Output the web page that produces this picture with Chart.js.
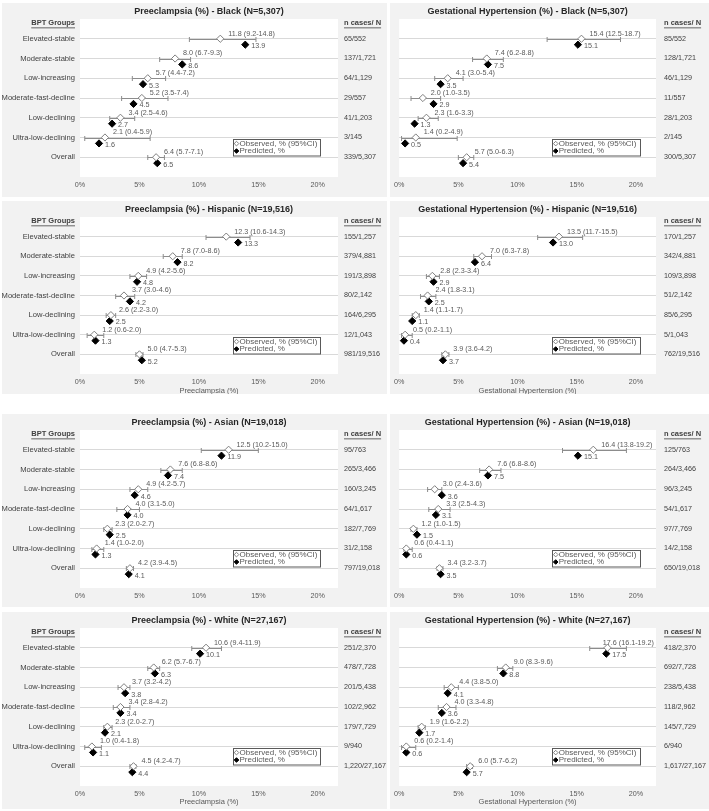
<!DOCTYPE html>
<html>
<head>
<meta charset="utf-8">
<script src="https://cdn.jsdelivr.net/npm/chart.js@4.4.1/dist/chart.umd.min.js"></script>
<style>
  html, body { margin: 0; padding: 0; background: #fff; }
  body { width: 709px; height: 811px; position: relative; overflow: hidden; }
</style>
</head>
<body>
<script>
// BPT groups (rows) and x ticks
const groups = ['Elevated-stable', 'Moderate-stable', 'Low-increasing', 'Moderate-fast-decline', 'Low-declining', 'Ultra-low-declining', 'Overall'];
const xTicks = [0, 5, 10, 15, 20];

// Black
const blackPeObs  = [11.8, 8.0, 5.7, 5.2, 3.4, 2.1, 6.4];
const blackPeLow  = [9.2, 6.7, 4.4, 3.5, 2.5, 0.4, 5.7];
const blackPeHigh = [14.8, 9.3, 7.2, 7.4, 4.6, 5.9, 7.1];
const blackPePred = [13.9, 8.6, 5.3, 4.5, 2.7, 1.6, 6.5];
const blackPeN    = ['65/552', '137/1,721', '64/1,129', '29/557', '41/1,203', '3/145', '339/5,307'];

const blackGhObs  = [15.4, 7.4, 4.1, 2.0, 2.3, 1.4, 5.7];
const blackGhLow  = [12.5, 6.2, 3.0, 1.0, 1.6, 0.2, 5.0];
const blackGhHigh = [18.7, 8.8, 5.4, 3.5, 3.3, 4.9, 6.3];
const blackGhPred = [15.1, 7.5, 3.5, 2.9, 1.3, 0.5, 5.4];
const blackGhN    = ['85/552', '128/1,721', '46/1,129', '11/557', '28/1,203', '2/145', '300/5,307'];

// Hispanic
const hispPeObs  = [12.3, 7.8, 4.9, 3.7, 2.6, 1.2, 5.0];
const hispPeLow  = [10.6, 7.0, 4.2, 3.0, 2.2, 0.6, 4.7];
const hispPeHigh = [14.3, 8.6, 5.6, 4.6, 3.0, 2.0, 5.3];
const hispPePred = [13.3, 8.2, 4.8, 4.2, 2.5, 1.3, 5.2];
const hispPeN    = ['155/1,257', '379/4,881', '191/3,898', '80/2,142', '164/6,295', '12/1,043', '981/19,516'];

const hispGhObs  = [13.5, 7.0, 2.8, 2.4, 1.4, 0.5, 3.9];
const hispGhLow  = [11.7, 6.3, 2.3, 1.8, 1.1, 0.2, 3.6];
const hispGhHigh = [15.5, 7.8, 3.4, 3.1, 1.7, 1.1, 4.2];
const hispGhPred = [13.0, 6.4, 2.9, 2.5, 1.1, 0.4, 3.7];
const hispGhN    = ['170/1,257', '342/4,881', '109/3,898', '51/2,142', '85/6,295', '5/1,043', '762/19,516'];

// Asian
const asianPeObs  = [12.5, 7.6, 4.9, 4.0, 2.3, 1.4, 4.2];
const asianPeLow  = [10.2, 6.8, 4.2, 3.1, 2.0, 1.0, 3.9];
const asianPeHigh = [15.0, 8.6, 5.7, 5.0, 2.7, 2.0, 4.5];
const asianPePred = [11.9, 7.4, 4.6, 4.0, 2.5, 1.3, 4.1];
const asianPeN    = ['95/763', '265/3,466', '160/3,245', '64/1,617', '182/7,769', '31/2,158', '797/19,018'];

const asianGhObs  = [16.4, 7.6, 3.0, 3.3, 1.2, 0.6, 3.4];
const asianGhLow  = [13.8, 6.8, 2.4, 2.5, 1.0, 0.4, 3.2];
const asianGhHigh = [19.2, 8.6, 3.6, 4.3, 1.5, 1.1, 3.7];
const asianGhPred = [15.1, 7.5, 3.6, 3.1, 1.5, 0.6, 3.5];
const asianGhN    = ['125/763', '264/3,466', '96/3,245', '54/1,617', '97/7,769', '14/2,158', '650/19,018'];

// White
const whitePeObs  = [10.6, 6.2, 3.7, 3.4, 2.3, 1.0, 4.5];
const whitePeLow  = [9.4, 5.7, 3.2, 2.8, 2.0, 0.4, 4.2];
const whitePeHigh = [11.9, 6.7, 4.2, 4.2, 2.7, 1.8, 4.7];
const whitePePred = [10.1, 6.3, 3.8, 3.4, 2.1, 1.1, 4.4];
const whitePeN    = ['251/2,370', '478/7,728', '201/5,438', '102/2,962', '179/7,729', '9/940', '1,220/27,167'];

const whiteGhObs  = [17.6, 9.0, 4.4, 4.0, 1.9, 0.6, 6.0];
const whiteGhLow  = [16.1, 8.3, 3.8, 3.3, 1.6, 0.2, 5.7];
const whiteGhHigh = [19.2, 9.6, 5.0, 4.8, 2.2, 1.4, 6.2];
const whiteGhPred = [17.5, 8.8, 4.1, 3.6, 1.7, 0.6, 5.7];
const whiteGhN    = ['418/2,370', '692/7,728', '238/5,438', '118/2,962', '145/7,729', '6/940', '1,617/27,167'];

const FONT = "'Liberation Sans', Arial, sans-serif";

// panel geometry
const cols = [
  { left: 2, width: 385, yW: 78, y2W: 49, y2Pad: 6, showGroups: true, legendDx: 153, legendW: 87 },
  { left: 390, width: 319, yW: 8, y2W: 53, y2Pad: 8, showGroups: false, legendDx: 153, legendW: 88 }
];
const rows = [
  { top: 3, h: 194, axisH: 20, xTitle: false },
  { top: 201, h: 193, axisH: 20, xTitle: true, titleLH: 0.8, titlePad: 0 },
  { top: 414, h: 193, axisH: 19, xTitle: false },
  { top: 612, h: 197, axisH: 23, xTitle: true, titleLH: 1, titlePad: 3.2 }
];

const panels = [
  { row: 0, col: 0, title: 'Preeclampsia (%) - Black (N=5,307)', axis: 'Preeclampsia (%)', obs: blackPeObs, lo: blackPeLow, hi: blackPeHigh, pred: blackPePred, n: blackPeN },
  { row: 0, col: 1, title: 'Gestational Hypertension (%) - Black (N=5,307)', axis: 'Gestational Hypertension (%)', obs: blackGhObs, lo: blackGhLow, hi: blackGhHigh, pred: blackGhPred, n: blackGhN },
  { row: 1, col: 0, title: 'Preeclampsia (%) - Hispanic (N=19,516)', axis: 'Preeclampsia (%)', obs: hispPeObs, lo: hispPeLow, hi: hispPeHigh, pred: hispPePred, n: hispPeN },
  { row: 1, col: 1, title: 'Gestational Hypertension (%) - Hispanic (N=19,516)', axis: 'Gestational Hypertension (%)', obs: hispGhObs, lo: hispGhLow, hi: hispGhHigh, pred: hispGhPred, n: hispGhN },
  { row: 2, col: 0, title: 'Preeclampsia (%) - Asian (N=19,018)', axis: 'Preeclampsia (%)', obs: asianPeObs, lo: asianPeLow, hi: asianPeHigh, pred: asianPePred, n: asianPeN },
  { row: 2, col: 1, title: 'Gestational Hypertension (%) - Asian (N=19,018)', axis: 'Gestational Hypertension (%)', obs: asianGhObs, lo: asianGhLow, hi: asianGhHigh, pred: asianGhPred, n: asianGhN },
  { row: 3, col: 0, title: 'Preeclampsia (%) - White (N=27,167)', axis: 'Preeclampsia (%)', obs: whitePeObs, lo: whitePeLow, hi: whitePeHigh, pred: whitePePred, n: whitePeN },
  { row: 3, col: 1, title: 'Gestational Hypertension (%) - White (N=27,167)', axis: 'Gestational Hypertension (%)', obs: whiteGhObs, lo: whiteGhLow, hi: whiteGhHigh, pred: whiteGhPred, n: whiteGhN }
];

function diamond(ctx, x, y, r, fill, stroke) {
  ctx.beginPath();
  ctx.moveTo(x - r, y); ctx.lineTo(x, y - r); ctx.lineTo(x + r, y); ctx.lineTo(x, y + r);
  ctx.closePath();
  ctx.fillStyle = fill; ctx.fill();
  ctx.strokeStyle = stroke; ctx.lineWidth = 1; ctx.stroke();
}

// backgrounds, CI bars, value labels, headers and legend box
const forestPlugin = {
  id: 'forest',
  beforeDraw(chart) {
    const { ctx, chartArea: a, width, height } = chart;
    ctx.save();
    ctx.fillStyle = '#f2f2f2';
    ctx.fillRect(0, 0, width, height);
    ctx.fillStyle = '#ffffff';
    ctx.fillRect(a.left, a.top, a.right - a.left, a.bottom - a.top);
    ctx.restore();
  },
  beforeDatasetsDraw(chart, args, o) {
    const { ctx } = chart;
    const xs = chart.scales.x, ys = chart.scales.y;
    ctx.save();
    ctx.strokeStyle = '#8c8c8c';
    ctx.lineWidth = 1;
    o.obs.forEach((v, i) => {
      const y = Math.round(ys.getPixelForValue(i + 1)) + 0.5;
      const x1 = xs.getPixelForValue(o.lo[i]);
      const x2 = xs.getPixelForValue(o.hi[i]);
      ctx.beginPath();
      ctx.moveTo(x1, y); ctx.lineTo(x2, y);
      ctx.moveTo(x1, y - 2.5); ctx.lineTo(x1, y + 2.5);
      ctx.moveTo(x2, y - 2.5); ctx.lineTo(x2, y + 2.5);
      ctx.stroke();
    });
    ctx.restore();
  },
  afterDatasetsDraw(chart, args, o) {
    const { ctx, chartArea: a } = chart;
    const ys = chart.scales.y;
    const obsPts = chart.getDatasetMeta(0).data;
    const predPts = chart.getDatasetMeta(1).data;
    ctx.save();
    ctx.font = '7.2px ' + FONT;
    ctx.fillStyle = '#595959';
    ctx.textBaseline = 'middle';
    ctx.textAlign = 'left';
    o.obs.forEach((v, i) => {
      const t = v.toFixed(1) + ' (' + o.lo[i].toFixed(1) + '-' + o.hi[i].toFixed(1) + ')';
      const tw = ctx.measureText(t).width;
      let tx = obsPts[i].x + 8;
      if (tx + tw > a.right - 2) tx = a.right - 2 - tw;
      ctx.fillText(t, tx, obsPts[i].y - 5);
      ctx.fillText(o.pred[i].toFixed(1), predPts[i].x + 6, predPts[i].y + 1.5);
    });

    // column headers
    const hy = ys.getPixelForValue(0.22);
    ctx.font = 'bold 7.5px ' + FONT;
    ctx.fillStyle = '#404040';
    ctx.strokeStyle = '#404040';
    ctx.lineWidth = 0.8;
    if (o.showGroups) {
      ctx.textAlign = 'right';
      const t = 'BPT Groups';
      const w = ctx.measureText(t).width;
      const x = a.left - 5;
      ctx.fillText(t, x, hy);
      ctx.beginPath(); ctx.moveTo(x - w, hy + 4.5); ctx.lineTo(x, hy + 4.5); ctx.stroke();
    }
    ctx.textAlign = 'left';
    const nt = 'n cases/ N';
    const nw = ctx.measureText(nt).width;
    const nx = a.right + o.y2Pad;
    ctx.fillText(nt, nx, hy);
    ctx.beginPath(); ctx.moveTo(nx, hy + 4.5); ctx.lineTo(nx + nw, hy + 4.5); ctx.stroke();

    // legend box
    const lx = a.left + o.legendDx, ly = a.top + 120;
    ctx.fillStyle = '#ffffff';
    ctx.fillRect(lx, ly, o.legendW, 16.5);
    ctx.strokeStyle = '#595959';
    ctx.lineWidth = 1;
    ctx.strokeRect(Math.round(lx) + 0.5, Math.round(ly) + 0.5, o.legendW, 16.5);
    diamond(ctx, lx + 3.5, ly + 4.6, 2.3, '#ffffff', '#808080');
    diamond(ctx, lx + 3.5, ly + 12, 2.3, '#000000', '#000000');
    ctx.font = '8px ' + FONT;
    ctx.fillStyle = '#595959';
    ctx.fillText(chart.data.datasets[0].label, lx + 6.5, ly + 4.8);
    ctx.fillText(chart.data.datasets[1].label, lx + 6.5, ly + 12.2);
    ctx.restore();
  }
};

panels.forEach(p => {
  const col = cols[p.col], row = rows[p.row];
  const box = document.createElement('div');
  box.style.cssText = 'position:absolute;left:' + col.left + 'px;top:' + row.top + 'px;width:' + col.width + 'px;height:' + row.h + 'px';
  const cv = document.createElement('canvas');
  cv.width = col.width;
  cv.height = row.h;
  cv.style.width = col.width + 'px';
  cv.style.height = row.h + 'px';
  box.appendChild(cv);
  document.body.appendChild(box);

  new Chart(cv, {
    type: 'scatter',
    data: {
      datasets: [
        {
          label: 'Observed, % (95%CI)',
          data: p.obs.map((v, i) => ({ x: v, y: i + 1 })),
          pointStyle: 'rectRot', radius: 3.6,
          backgroundColor: '#ffffff', borderColor: '#808080', borderWidth: 1
        },
        {
          label: 'Predicted, %',
          data: p.pred.map((v, i) => ({ x: v, y: i + 1.3 })),
          pointStyle: 'rectRot', radius: 3.6,
          backgroundColor: '#000000', borderColor: '#000000', borderWidth: 1
        }
      ]
    },
    options: {
      responsive: false,
      animation: false,
      events: [],
      layout: { padding: 0, autoPadding: false },
      plugins: {
        legend: { display: false },
        tooltip: { enabled: false },
        title: {
          display: true,
          text: p.title,
          fullSize: false,
          color: '#262626',
          font: { family: FONT, size: 9, weight: 'bold', lineHeight: 1.2 },
          padding: { top: 3.6, bottom: 1.6 }
        },
        forest: {
          obs: p.obs, lo: p.lo, hi: p.hi, pred: p.pred,
          showGroups: col.showGroups, y2Pad: col.y2Pad,
          legendDx: col.legendDx, legendW: col.legendW
        }
      },
      scales: {
        x: {
          type: 'linear', min: 0, max: 21.7,
          grid: { display: false, drawTicks: false },
          border: { display: false },
          afterBuildTicks: s => { s.ticks = xTicks.map(v => ({ value: v })); },
          afterFit: s => { s.height = row.axisH; },
          ticks: {
            color: '#595959', padding: 4, maxRotation: 0, autoSkip: false,
            font: { family: FONT, size: 7.2 },
            callback: v => v + '%'
          },
          title: row.xTitle ? {
            display: true, text: p.axis, color: '#595959',
            font: { family: FONT, size: 7.5, lineHeight: row.titleLH },
            padding: { top: 0, bottom: row.titlePad }
          } : { display: false }
        },
        y: {
          type: 'linear', position: 'left', min: 0, max: 8, reverse: true,
          grid: { color: '#d9d9d9', drawTicks: false },
          border: { display: false },
          afterBuildTicks: s => { s.ticks = groups.map((g, i) => ({ value: i + 1 })); },
          afterFit: s => { s.width = col.yW; },
          ticks: {
            display: col.showGroups, color: '#404040', padding: 5, autoSkip: false,
            font: { family: FONT, size: 7.6 },
            callback: v => groups[v - 1]
          }
        },
        y2: {
          type: 'linear', position: 'right', min: 0, max: 8, reverse: true,
          grid: { display: false, drawTicks: false },
          border: { display: false },
          afterBuildTicks: s => { s.ticks = p.n.map((t, i) => ({ value: i + 1 })); },
          afterFit: s => { s.width = col.y2W; },
          ticks: {
            color: '#404040', padding: col.y2Pad, autoSkip: false,
            font: { family: FONT, size: 7.2 },
            callback: v => p.n[v - 1]
          }
        }
      }
    },
    plugins: [forestPlugin]
  });
});
</script>
</body>
</html>
